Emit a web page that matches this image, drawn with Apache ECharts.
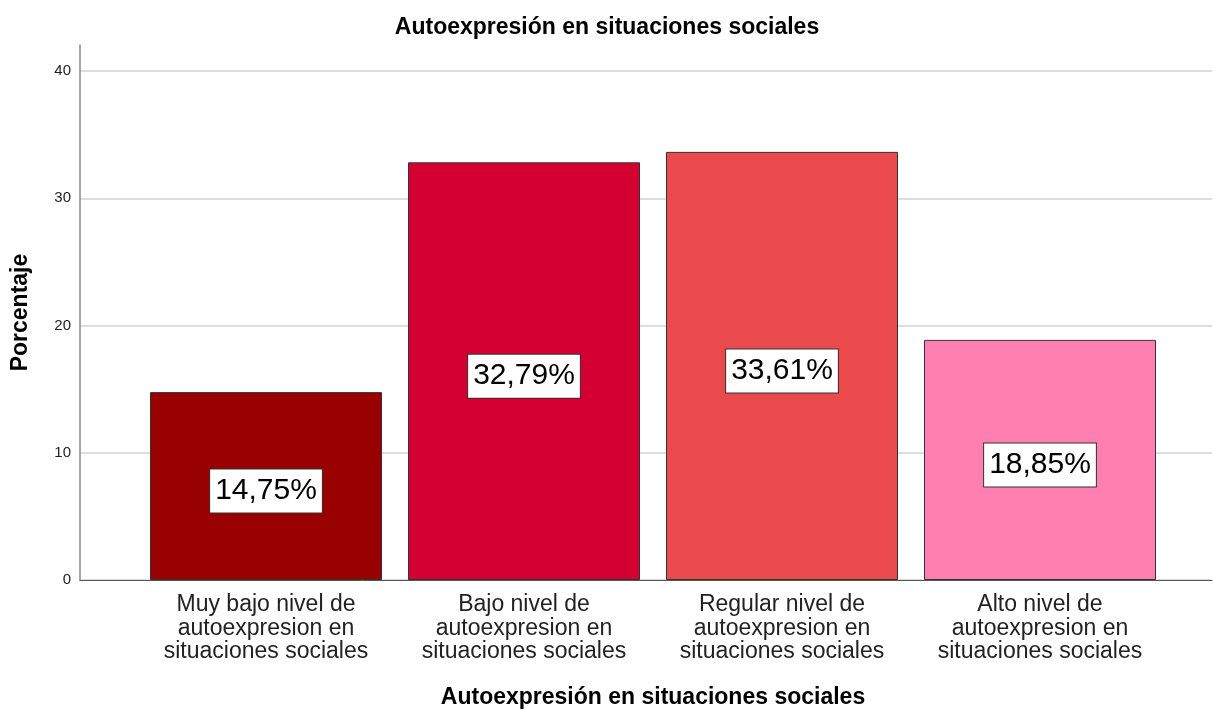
<!DOCTYPE html>
<html>
<head>
<meta charset="utf-8">
<script src="https://cdn.jsdelivr.net/npm/echarts@6/dist/echarts.min.js"></script>
<style>
  html, body { margin: 0; padding: 0; background: #fff; }
  #chart { width: 1214px; height: 711px; }
</style>
</head>
<body>
<div id="chart"></div>
<script>
  const categories = [
    'Muy bajo nivel de\nautoexpresion en\nsituaciones sociales',
    'Bajo nivel de\nautoexpresion en\nsituaciones sociales',
    'Regular nivel de\nautoexpresion en\nsituaciones sociales',
    'Alto nivel de\nautoexpresion en\nsituaciones sociales'
  ];
  const percentages = [14.75, 32.79, 33.61, 18.85];
  const barColors = ['#990000', '#d50032', '#eb4a4c', '#ff80b0'];
  const yTicks = [0, 10, 20, 30, 40];

  const font = '"Liberation Sans", Arial, sans-serif';
  const chart = echarts.init(document.getElementById('chart'));

  const options = {
    backgroundColor: '#fff',
    animation: false,
    title: {
      text: 'Autoexpresión en situaciones sociales',
      left: 'center',
      top: 16,
      padding: 0,
      textStyle: { fontFamily: font, fontSize: 23, fontWeight: 'bold', color: '#000' }
    },
    grid: [
      // grid for the gridlines, tick labels and x axis line
      { left: 80, right: 2, top: 71, bottom: 131, outerBoundsMode: 'none' },
      // grid for the bars
      { left: 137, right: 45, top: 45, bottom: 131, outerBoundsMode: 'none' }
    ],
    xAxis: [
      {
        gridIndex: 0,
        type: 'category',
        data: ['a'],
        axisLine: { show: true, lineStyle: { color: '#555', width: 1 } },
        axisTick: { show: false },
        axisLabel: { show: false }
      },
      {
        gridIndex: 1,
        type: 'category',
        data: categories,
        axisLine: { show: false },
        axisTick: { show: false },
        axisLabel: {
          margin: 13,
          fontFamily: font,
          fontSize: 23,
          lineHeight: 23.5,
          color: '#222',
          interval: 0
        },
        name: 'Autoexpresión en situaciones sociales',
        nameLocation: 'middle',
        nameGap: 106,
        nameTextStyle: { fontFamily: font, fontSize: 23, fontWeight: 'bold', color: '#000' }
      }
    ],
    yAxis: [
      {
        gridIndex: 0,
        type: 'value',
        min: yTicks[0],
        max: yTicks[yTicks.length - 1],
        interval: 10,
        axisLine: { show: false },
        axisTick: { show: false },
        axisLabel: { margin: 9, fontFamily: font, fontSize: 15, color: '#222' },
        splitLine: { show: true, lineStyle: { color: '#d2d2d2', width: 1.5 } }
      },
      {
        gridIndex: 1,
        type: 'value',
        min: 0,
        max: 42,
        offset: 57,
        axisLine: { show: true, lineStyle: { color: '#8a8a8a', width: 1.5 } },
        axisTick: { show: false },
        axisLabel: { show: false },
        splitLine: { show: false },
        name: 'Porcentaje',
        nameLocation: 'middle',
        nameGap: 48,
        nameTextStyle: { fontFamily: font, fontSize: 23, fontWeight: 'bold', color: '#000' }
      }
    ],
    series: [
      {
        type: 'bar',
        xAxisIndex: 1,
        yAxisIndex: 1,
        barWidth: 232,
        z: 5,
        data: percentages.map((v, i) => ({
          value: v,
          itemStyle: { color: barColors[i], borderColor: '#333', borderWidth: 1 }
        })),
        label: {
          show: true,
          position: 'inside',
          offset: [0, 5],
          formatter: (p) => p.value.toFixed(2).replace('.', ',') + '%',
          fontFamily: font,
          fontSize: 30,
          lineHeight: 36,
          color: '#000',
          backgroundColor: '#fff',
          borderColor: '#333',
          borderWidth: 1,
          padding: [4, 5, 3, 5]
        }
      }
    ]
  };

  chart.setOption(options);
</script>
</body>
</html>
